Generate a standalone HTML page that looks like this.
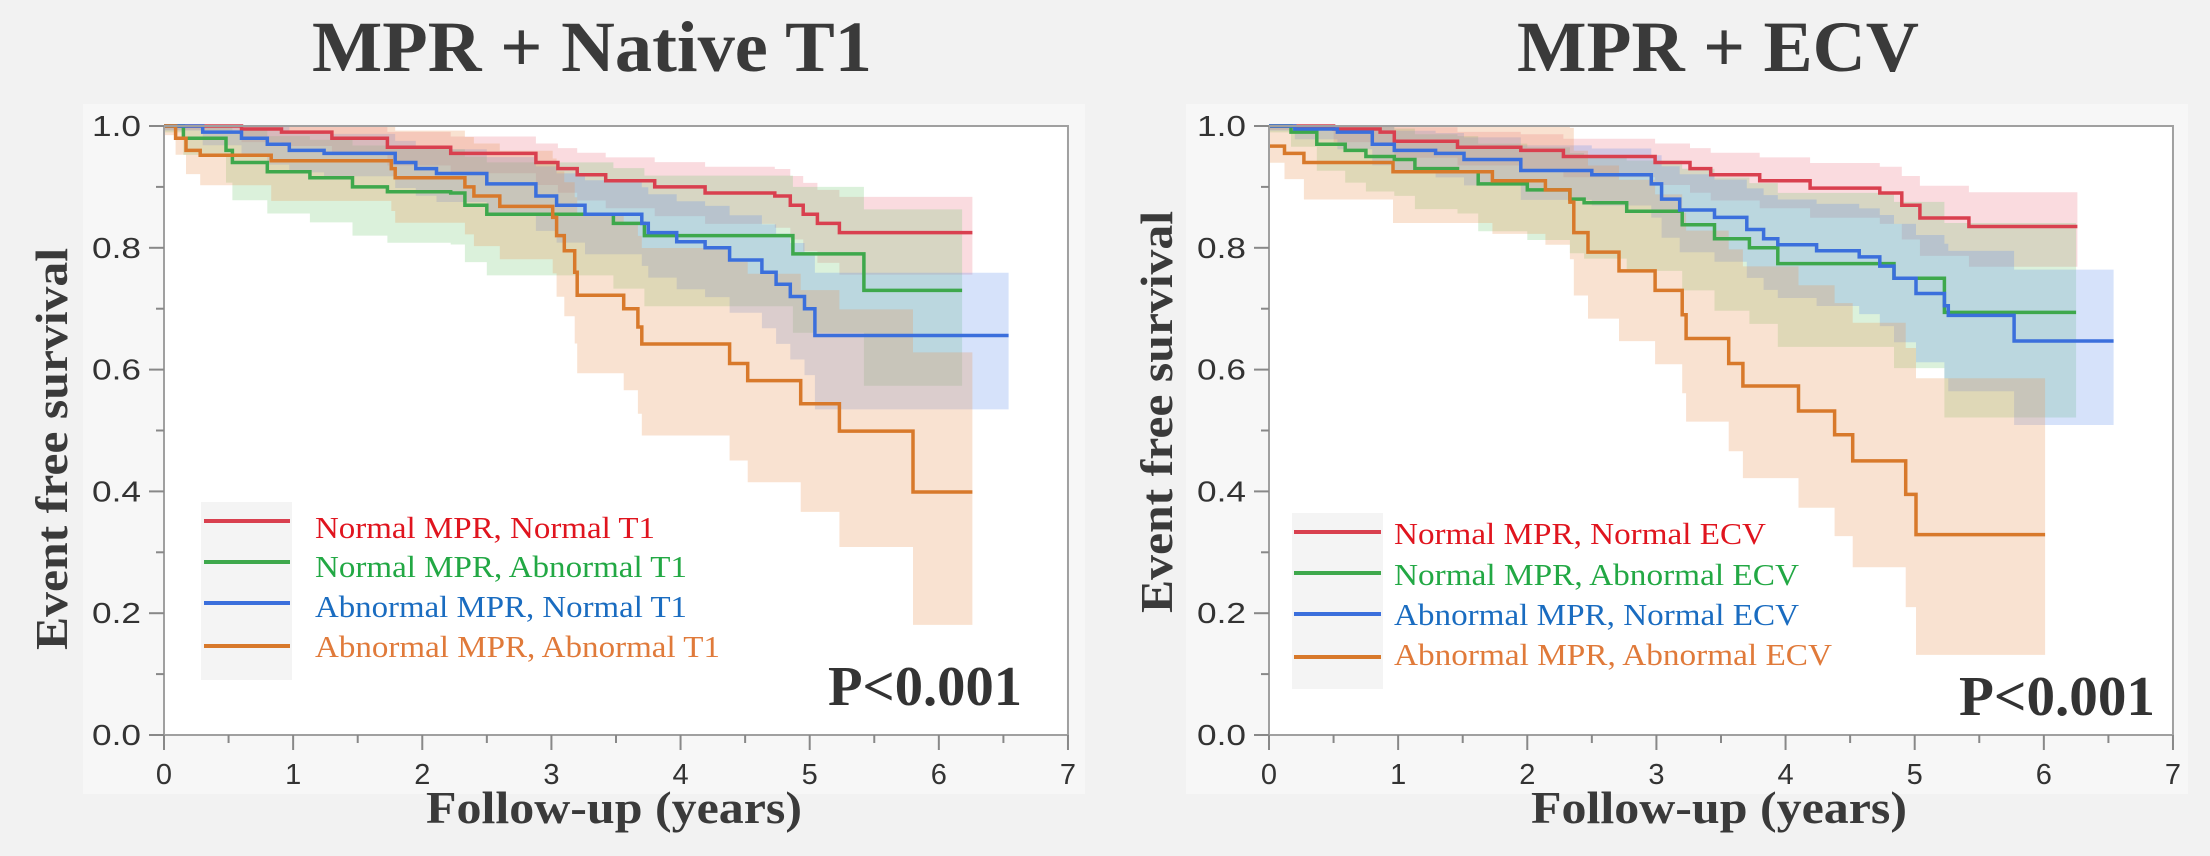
<!DOCTYPE html>
<html><head><meta charset="utf-8">
<style>
html,body{margin:0;padding:0;background:#f2f2f2;}
svg{display:block;}
</style></head>
<body>
<svg id="s" width="2210" height="856" xmlns="http://www.w3.org/2000/svg">
<rect width="2210" height="856" fill="#f2f2f2"/>
<rect x="83" y="104" width="1002" height="690" fill="#f7f7f7"/>
<rect x="1186" y="104" width="1002" height="690" fill="#f7f7f7"/>
<g id="g"></g>
</svg>
<script>
const NS="http://www.w3.org/2000/svg";
const G=document.getElementById('g');
function el(tag,attrs,txt){const e=document.createElementNS(NS,tag);for(const k in attrs)e.setAttribute(k,attrs[k]);if(txt!==undefined)e.textContent=txt;G.appendChild(e);return e;}
const COL={r:'#d9404f',g:'#3ea84c',b:'#3b6fdc',o:'#d8792b'};
const BAND={r:'rgba(232,90,110,0.22)',g:'rgba(110,200,110,0.25)',b:'rgba(90,140,235,0.25)',o:'rgba(232,150,90,0.28)'};
const TXT={r:'#e0141e',g:'#22a844',b:'#1a6cc0',o:'#e07a3a'};
function panel(ox,title,titleLen,ylabCy,legend,legX,legLineX,legRows,legBox,pX,pY,series){
  const X=t=>ox+164+t*129.14, Y=s=>735-s*609;
  el('rect',{x:X(0),y:Y(1),width:X(7)-X(0),height:Y(0)-Y(1),fill:'#fff'});
  for(const s of series){
    const p=s.pts,te=s.end,k=s.k,c=s.c,uf=s.uf||0.85;
    let up=[],lo=[];
    for(let i=0;i<p.length;i++){
      const t0=p[i][0],t1=i+1<p.length?p[i+1][0]:te,v=p[i][1];
      const w=c*Math.min(1,0.3+t0*1.5)+k*(1-v);const u=Math.min(1,v+uf*w),l=v-w;
      up.push([X(t0),Y(u)],[X(t1),Y(u)]);lo.push([X(t0),Y(l)],[X(t1),Y(l)]);
    }
    const pts=up.concat(lo.reverse()).map(a=>a[0].toFixed(1)+','+a[1].toFixed(1)).join(' ');
    el('polygon',{points:pts,fill:BAND[s.c0]});
  }
  for(const s of series){
    const p=s.pts;let d='M'+X(0).toFixed(1)+' '+Y(p[0][1]).toFixed(1);
    for(let i=1;i<p.length;i++){d+=' H'+X(p[i][0]).toFixed(1)+' V'+Y(p[i][1]).toFixed(1);}
    d+=' H'+X(s.end).toFixed(1);
    el('path',{d:d,fill:'none',stroke:COL[s.c0],'stroke-width':3.5});
  }
  el('rect',{x:X(0),y:Y(1),width:X(7)-X(0),height:Y(0)-Y(1),fill:'none',stroke:'#a0a0a0','stroke-width':2});
  for(let i=0;i<=14;i++){const x=X(i/2);el('line',{x1:x,x2:x,y1:Y(0),y2:Y(0)+(i%2?8:15),stroke:'#888','stroke-width':2});}
  for(let i=0;i<=7;i++)el('text',{x:X(i),y:784,'font-family':'Liberation Sans, sans-serif','font-size':29,fill:'#333','text-anchor':'middle'},String(i));
  for(let i=0;i<=10;i++){const y=Y(i/10);el('line',{x1:X(0),x2:X(0)-(i%2?8:15),y1:y,y2:y,stroke:'#888','stroke-width':2});}
  for(let i=0;i<=5;i++)el('text',{x:ox+141,y:Y(i/5)+10,'font-family':'Liberation Sans, sans-serif','font-size':29,fill:'#333','text-anchor':'end',textLength:49,lengthAdjust:'spacingAndGlyphs'},(i/5).toFixed(1));
  el('text',{x:ox+(ox?613:592),y:71,'font-family':'Liberation Serif, serif','font-weight':'bold','font-size':72,fill:'#3a3a3a','text-anchor':'middle',textLength:titleLen,lengthAdjust:'spacingAndGlyphs'},title);
  el('text',{x:ox+614,y:823,'font-family':'Liberation Serif, serif','font-weight':'bold','font-size':46,fill:'#3a3a3a','text-anchor':'middle',textLength:376,lengthAdjust:'spacingAndGlyphs'},'Follow-up (years)');
  el('text',{x:0,y:0,transform:`translate(${ox+67},${ylabCy}) rotate(-90)`,'font-family':'Liberation Serif, serif','font-weight':'bold','font-size':46,fill:'#3a3a3a','text-anchor':'middle',textLength:402,lengthAdjust:'spacingAndGlyphs'},'Event free survival');
  el('rect',{x:legBox[0],y:legBox[1],width:legBox[2],height:legBox[3],fill:'#f4f4f4'});
  const cs=['r','g','b','o'];
  legRows.forEach((r,i)=>{
    el('line',{x1:legLineX[0],x2:legLineX[1],y1:r[0],y2:r[0],stroke:COL[cs[i]],'stroke-width':4});
    el('text',{x:legX,y:r[1],'font-family':'Liberation Serif, serif','font-size':31,fill:TXT[cs[i]],textLength:r[2],lengthAdjust:'spacingAndGlyphs'},legend[i]);
  });
  el('text',{x:pX[0],y:pY,'font-family':'Liberation Serif, serif','font-weight':'bold','font-size':56,fill:'#333',textLength:pX[1],lengthAdjust:'spacingAndGlyphs'},'P<0.001');
}
const L=[
 {c0:'r',k:0.28,c:0.02,end:6.26,pts:[[0,1],[0.6,0.995],[0.91,0.99],[1.3,0.98],[1.73,0.965],[2.22,0.955],[2.88,0.94],[3.05,0.93],[3.2,0.92],[3.42,0.91],[3.8,0.9],[4.19,0.89],[4.73,0.885],[4.85,0.87],[4.95,0.855],[5.06,0.84],[5.23,0.825]]},
 {c0:'g',k:0.45,c:0.035,end:6.18,pts:[[0,1],[0.15,0.98],[0.48,0.96],[0.53,0.94],[0.8,0.925],[1.13,0.915],[1.46,0.9],[1.73,0.892],[2.22,0.89],[2.33,0.87],[2.5,0.855],[3.48,0.84],[3.72,0.82],[4.87,0.79],[5.42,0.73]]},
 {c0:'b',k:0.28,c:0.025,end:6.54,pts:[[0,1],[0.3,0.99],[0.6,0.98],[0.8,0.97],[0.97,0.96],[1.24,0.955],[1.79,0.94],[1.95,0.93],[2.11,0.922],[2.5,0.905],[2.88,0.885],[3.04,0.87],[3.26,0.855],[3.7,0.84],[3.75,0.825],[3.97,0.81],[4.19,0.8],[4.38,0.78],[4.63,0.76],[4.74,0.74],[4.85,0.72],[4.96,0.70],[5.04,0.656]]},
 {c0:'o',k:0.28,c:0.05,end:6.26,uf:1.05,pts:[[0,1],[0.09,0.98],[0.17,0.96],[0.28,0.952],[0.83,0.943],[1.76,0.93],[1.79,0.915],[2.33,0.9],[2.4,0.885],[2.6,0.868],[3.01,0.85],[3.04,0.82],[3.1,0.795],[3.18,0.76],[3.2,0.722],[3.56,0.70],[3.67,0.67],[3.7,0.642],[4.38,0.61],[4.52,0.582],[4.93,0.544],[5.23,0.499],[5.8,0.399]]}
];
const R=[
 {c0:'r',k:0.28,c:0.02,end:6.26,pts:[[0,1],[0.5,0.995],[0.86,0.99],[0.97,0.975],[1.46,0.965],[1.95,0.96],[2.28,0.95],[2.99,0.94],[3.26,0.93],[3.42,0.92],[3.8,0.91],[4.19,0.898],[4.73,0.89],[4.9,0.87],[5.04,0.849],[5.42,0.835]]},
 {c0:'g',k:0.45,c:0.035,end:6.25,pts:[[0,1],[0.17,0.99],[0.37,0.97],[0.59,0.96],[0.75,0.95],[0.97,0.945],[1.13,0.93],[1.46,0.925],[1.62,0.905],[2.0,0.895],[2.33,0.88],[2.44,0.874],[2.77,0.86],[3.2,0.838],[3.45,0.815],[3.72,0.80],[3.94,0.774],[4.84,0.75],[5.23,0.694]]},
 {c0:'b',k:0.32,c:0.025,end:6.54,pts:[[0,1],[0.2,0.995],[0.53,0.99],[0.8,0.97],[0.97,0.96],[1.29,0.955],[1.51,0.945],[1.95,0.927],[2.33,0.927],[2.5,0.92],[2.96,0.905],[3.04,0.88],[3.18,0.862],[3.45,0.85],[3.7,0.83],[3.83,0.815],[3.94,0.805],[4.24,0.795],[4.57,0.785],[4.73,0.77],[4.84,0.75],[5.01,0.725],[5.23,0.705],[5.26,0.689],[5.77,0.647]]},
 {c0:'o',k:0.19,c:0.07,end:6.01,uf:1.3,pts:[[0,0.967],[0.12,0.955],[0.27,0.94],[0.96,0.925],[1.73,0.91],[2.14,0.895],[2.33,0.875],[2.36,0.825],[2.47,0.793],[2.71,0.762],[2.99,0.73],[3.2,0.69],[3.23,0.651],[3.56,0.61],[3.67,0.573],[4.1,0.532],[4.38,0.493],[4.52,0.45],[4.93,0.395],[5.01,0.329]]}
];
panel(0,'MPR + Native T1',560,449,['Normal MPR, Normal T1','Normal MPR, Abnormal T1','Abnormal MPR, Normal T1','Abnormal MPR, Abnormal T1'],315,[204,290],[[521,538,340],[562,577,372],[603,617,372],[646,657,405]],[201,502,91,178],[828,194],705,L);
panel(1105,'MPR + ECV',402,412,['Normal MPR, Normal ECV','Normal MPR, Abnormal ECV','Abnormal MPR, Normal ECV','Abnormal MPR, Abnormal ECV'],1394,[1294,1381],[[532,544,372],[573,585,405],[614,625,405],[657,665,438]],[1292,513,91,176],[1959,196],715,R);
</script>
</body></html>
